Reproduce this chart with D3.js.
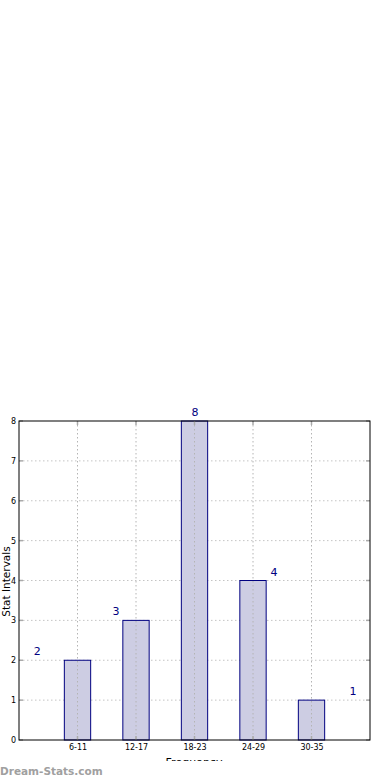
<!DOCTYPE html>
<html>
<head>
<meta charset="utf-8">
<script src="https://cdn.jsdelivr.net/npm/d3@7"></script>
<style>
  body { margin: 0; background: #fff; }
  svg { display: block; font-family: "DejaVu Sans", sans-serif; }
</style>
</head>
<body>
<div id="container"></div>
<script>
/* DATA */
const categories = ["6-11", "12-17", "18-23", "24-29", "30-35"];
const counts = [2, 3, 8, 4, 1];
const yTicks = [0, 1, 2, 3, 4, 5, 6, 7, 8];

/* CONSTANTS */
const width = 390, height = 780;
const plot = {left: 19, right: 370, top: 421, bottom: 740};

const svg = d3.select("#container").append("svg")
  .attr("width", width)
  .attr("height", height);

// x is a linear index scale, categories sit at 1..5
const xScale = d3.scaleLinear()
  .domain([0, categories.length + 1])
  .range([plot.left, plot.right]);

const yScale = d3.scaleLinear()
  .domain([0, 8])
  .range([plot.bottom, plot.top]);

const barW = (xScale(1) - xScale(0)) * 0.45;

// gridlines
svg.append("g")
  .selectAll("line")
  .data(yTicks.slice(1, -1))
  .join("line")
  .attr("x1", plot.left).attr("x2", plot.right)
  .attr("y1", d => yScale(d)).attr("y2", d => yScale(d))
  .attr("stroke", "#c4c4c4")
  .attr("stroke-dasharray", "1.5,2.5");

// bars
svg.append("g")
  .selectAll("rect")
  .data(counts)
  .join("rect")
  .attr("x", (d, i) => xScale(i + 1) - barW / 2)
  .attr("y", d => yScale(d))
  .attr("width", barW)
  .attr("height", d => yScale(0) - yScale(d))
  .attr("fill", "#cdcde3")
  .attr("stroke", "#000080")
  .attr("stroke-width", 1);

// vertical gridlines drawn over bars
svg.append("g")
  .selectAll("line")
  .data(categories)
  .join("line")
  .attr("x1", (d, i) => xScale(i + 1)).attr("x2", (d, i) => xScale(i + 1))
  .attr("y1", plot.top).attr("y2", plot.bottom)
  .attr("stroke", "#b4b4b4")
  .attr("stroke-dasharray", "1.5,2.5");

// small inward ticks on all four sides
const tickG = svg.append("g").attr("stroke", "#aaa").attr("stroke-width", 1.5);
tickG.selectAll(".yl").data(yTicks).join("line")
  .attr("x1", plot.left).attr("x2", plot.left + 4)
  .attr("y1", d => yScale(d)).attr("y2", d => yScale(d));
tickG.selectAll(".yr").data(yTicks).join("line")
  .attr("x1", plot.right - 4).attr("x2", plot.right)
  .attr("y1", d => yScale(d)).attr("y2", d => yScale(d));
tickG.selectAll(".xt").data(categories).join("line")
  .attr("x1", (d, i) => xScale(i + 1)).attr("x2", (d, i) => xScale(i + 1))
  .attr("y1", plot.top).attr("y2", plot.top + 4);
tickG.selectAll(".xb").data(categories).join("line")
  .attr("x1", (d, i) => xScale(i + 1)).attr("x2", (d, i) => xScale(i + 1))
  .attr("y1", plot.bottom - 4).attr("y2", plot.bottom);

// frame
svg.append("rect")
  .attr("x", plot.left).attr("y", plot.top)
  .attr("width", plot.right - plot.left)
  .attr("height", plot.bottom - plot.top)
  .attr("fill", "none")
  .attr("stroke", "#000")
  .attr("stroke-width", 1);

// axes labels
const yAxis = d3.axisLeft(yScale).tickValues(yTicks).tickSize(0).tickPadding(3);
svg.append("g")
  .attr("transform", `translate(${plot.left},0)`)
  .call(yAxis)
  .call(g => g.select(".domain").remove())
  .selectAll("text")
  .style("font-size", "8px")
  .style("font-family", "DejaVu Sans")
  .attr("fill", "#000");

const xAxis = d3.axisBottom(xScale)
  .tickValues(categories.map((d, i) => i + 1))
  .tickFormat((d, i) => categories[i])
  .tickSize(0).tickPadding(4);
svg.append("g")
  .attr("transform", `translate(0,${plot.bottom})`)
  .call(xAxis)
  .call(g => g.select(".domain").remove())
  .selectAll("text")
  .style("font-size", "8px")
  .style("font-family", "DejaVu Sans")
  .attr("fill", "#000");

// value labels (offset like the original)
svg.append("g")
  .selectAll("text")
  .data(counts)
  .join("text")
  .attr("x", (d, i) => xScale(0.31 + i * 1.35))
  .attr("y", d => yScale(d) - 5)
  .attr("text-anchor", "middle")
  .attr("fill", "#000080")
  .style("font-size", "11px")
  .text(d => d);

// y label
svg.append("text")
  .attr("transform", `translate(10,${(plot.top + plot.bottom) / 2 + 1}) rotate(-90)`)
  .attr("text-anchor", "middle")
  .style("font-size", "10.5px")
  .attr("fill", "#000")
  .text("Stat Intervals");

// x label, clipped at the image edge
svg.append("clipPath").attr("id", "cut")
  .append("rect").attr("x", 0).attr("y", 0).attr("width", width).attr("height", 761);
svg.append("text")
  .attr("x", 194)
  .attr("y", 766)
  .attr("text-anchor", "middle")
  .attr("clip-path", "url(#cut)")
  .style("font-size", "11px")
  .attr("fill", "#000")
  .text("Frequency");

// watermark
svg.append("text")
  .attr("x", 0)
  .attr("y", 775)
  .style("font-size", "10.5px")
  .style("font-weight", "bold")
  .attr("fill", "#a0a0a0")
  .text("Dream-Stats.com");
</script>
</body>
</html>
